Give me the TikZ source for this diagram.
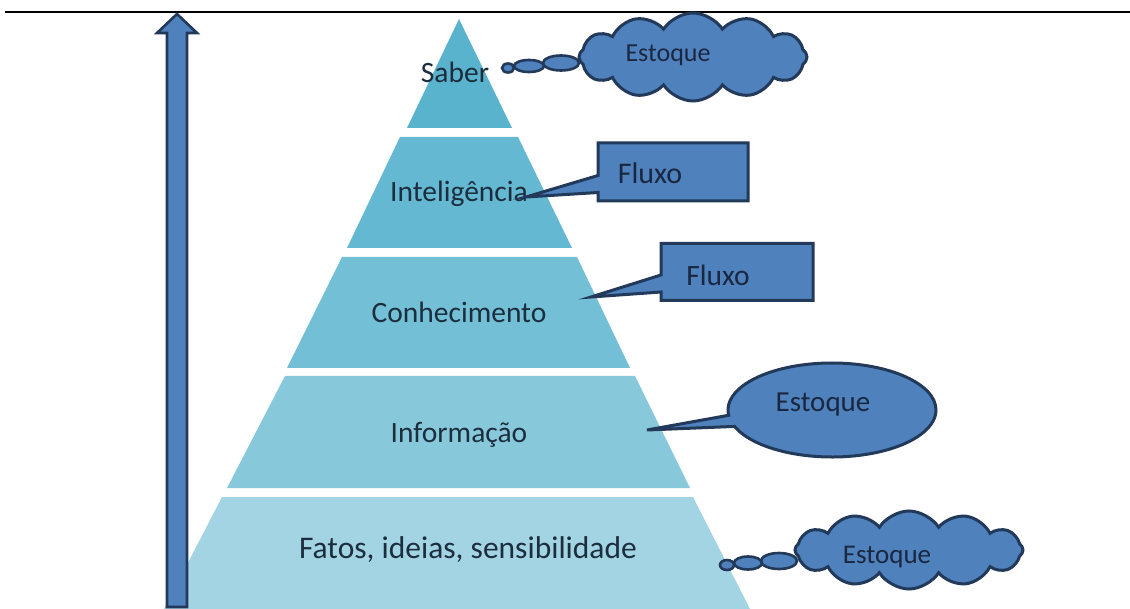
\documentclass[tikz,border=0pt]{standalone}
\usepackage{fontspec}
\setmainfont{Carlito}
\usetikzlibrary{shapes.callouts,shapes.symbols}
\definecolor{layA}{HTML}{5AB3CD}
\definecolor{layB}{HTML}{64B8D1}
\definecolor{layC}{HTML}{73BFD6}
\definecolor{layD}{HTML}{88C8DB}
\definecolor{layE}{HTML}{A3D4E3}
\definecolor{callfill}{HTML}{4F81BD}
\definecolor{callline}{HTML}{22395A}
\definecolor{labtext}{HTML}{1C2E3D}
\definecolor{calltext}{HTML}{1A2740}
\tikzset{
  layerlabel/.style={text=labtext, font=\fontsize{29.5}{30}\selectfont, inner sep=0pt},
  calllabel/.style={text=calltext, inner sep=0pt},
  callbase/.style={fill=callfill, draw=callline, line width=3pt},
  cloudbox/.style={callbase, cloud, cloud puffs=12, cloud puff arc=115,
    cloud ignores aspect, inner sep=0pt},
  bubble/.style={fill=callfill, draw=callline, line width=2.6pt},
  rectcall/.style={callbase, rectangle callout, callout pointer width=17pt, inner sep=0pt},
  ellcall/.style={callbase, ellipse callout, callout pointer arc=14, inner sep=0pt},
}
\begin{document}
\begin{tikzpicture}[x=1pt,y=-1pt]
\useasboundingbox (0,0) rectangle (1130,609);
\fill[white] (0,0) rectangle (1130,609);
\draw[line width=1.4pt] (5,12) -- (1130,12);

% pyramid layers
\fill[layA] (459,19) -- (512,128) -- (407,128) -- cycle;
\fill[layB] (400,137) -- (518,137) -- (572,248) -- (347,248) -- cycle;
\fill[layC] (342,257) -- (577,257) -- (630,368) -- (287,368) -- cycle;
\fill[layD] (285,376) -- (635,376) -- (690,488) -- (227,488) -- cycle;
\fill[layE] (222,497) -- (693,497) -- (750,609) -- (164,609) -- cycle;

\node[layerlabel] (saber) at (455,72) {Saber};
\node[layerlabel] (intel) at (459,194) {Inteligência};
\node[layerlabel] (conh) at (459,312) {Conhecimento};
\node[layerlabel] (info) at (459,435) {Informação};
\node[layerlabel, font=\fontsize{31.5}{32}\selectfont] (fatos) at (468,550) {Fatos, ideias, sensibilidade};

% vertical arrow
\filldraw[fill=callfill, draw=callline, line width=2.6pt, line join=miter]
  (167,607) -- (167,33) -- (157,33) -- (177,14) -- (197,33) -- (187,33) -- (187,607) -- cycle;

% pointer targets
\coordinate (p2) at (526,197);
\coordinate (p3) at (591,297);
\coordinate (p4) at (647,430);

% top cloud with thought bubbles
\draw[bubble] (508,68) ellipse (6 and 4.5);
\draw[bubble] (529,66) ellipse (15 and 6);
\draw[bubble] (561,63) ellipse (18 and 7.5);
\node[cloudbox, minimum width=228pt, minimum height=88pt] (c1) at (693,57) {};
\node[calllabel, font=\fontsize{26}{27}\selectfont] (t1) at (668,55) {Estoque};

\node[rectcall, minimum width=150pt, minimum height=58pt, callout absolute pointer={(p2)}] (r1) at (673,172) {};
\node[calllabel, font=\fontsize{30}{31}\selectfont] (t2) at (650,173) {Fluxo};

\node[rectcall, minimum width=152pt, minimum height=57pt, callout absolute pointer={(p3)}] (r2) at (737,272) {};
\node[calllabel, font=\fontsize{29.5}{31}\selectfont] (t3) at (718,275) {Fluxo};

\node[ellcall, minimum width=208pt, minimum height=94pt, callout absolute pointer={(p4)}] (e1) at (832,410) {};
\node[calllabel, font=\fontsize{29}{30}\selectfont] (t4) at (823,405) {Estoque};

% bottom cloud with thought bubbles
\draw[bubble] (727,565) ellipse (7 and 5);
\draw[bubble] (748,563) ellipse (14 and 6.5);
\draw[bubble] (779,561) ellipse (18 and 8);
\node[cloudbox, minimum width=228pt, minimum height=78pt] (c2) at (909,550) {};
\node[calllabel, font=\fontsize{27}{28}\selectfont] (t5) at (887,557) {Estoque};
\end{tikzpicture}
\end{document}
